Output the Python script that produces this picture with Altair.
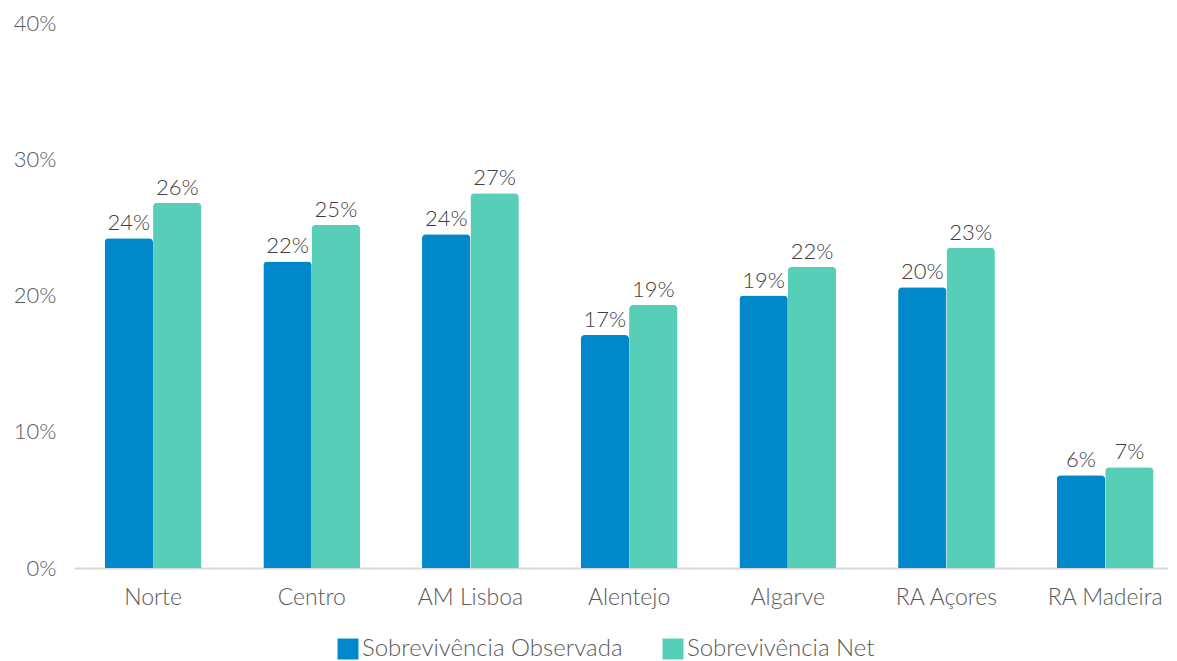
import altair as alt
import pandas as pd

regions = ["Norte", "Centro", "AM Lisboa", "Alentejo", "Algarve", "RA Açores", "RA Madeira"]
series = ["Sobrevivência Observada", "Sobrevivência Net"]
observada = [0.242, 0.225, 0.245, 0.171, 0.200, 0.206, 0.068]
net = [0.268, 0.252, 0.275, 0.193, 0.221, 0.235, 0.074]
labels_obs = ["24%", "22%", "24%", "17%", "19%", "20%", "6%"]
labels_net = ["26%", "25%", "27%", "19%", "22%", "23%", "7%"]
colors = ["#0088CA", "#57CFB8"]

rows = []
for i, r in enumerate(regions):
    rows.append({"region": r, "serie": series[0], "value": observada[i], "label": labels_obs[i], "order": 0})
    rows.append({"region": r, "serie": series[1], "value": net[i], "label": labels_net[i], "order": 1})
df = pd.DataFrame(rows)

FONT = "Lato"
TXT = "#595959"

x = alt.X("region:N", sort=regions, title=None,
          scale=alt.Scale(paddingInner=0.39, paddingOuter=0.142, align=0.68),
          axis=alt.Axis(labelAngle=0, labelFontSize=23, labelColor=TXT, labelFont=FONT,
                        labelFontWeight=300,
                        ticks=False, domainColor="#D9D9D9", domainWidth=2, labelPadding=18))
xo = alt.XOffset("serie:N", sort=series)

base = alt.Chart(df)

bars = base.mark_bar(cornerRadiusTopLeft=4, cornerRadiusTopRight=4).encode(
    x=x, xOffset=xo,
    y=alt.Y("value:Q", title=None,
            scale=alt.Scale(domain=[0, 0.4]),
            axis=alt.Axis(format=".0%", values=[0, 0.1, 0.2, 0.3, 0.4], grid=False, domain=False,
                          ticks=False, labelFontSize=22, labelColor=TXT, labelFont=FONT,
                          labelFontWeight=300, labelPadding=18)),
    color=alt.Color("serie:N", sort=series,
                    scale=alt.Scale(domain=series, range=colors),
                    legend=alt.Legend(orient="none", legendX=262, legendY=614, title=None,
                                      symbolType="square", direction="horizontal",
                                      symbolSize=440, symbolStrokeWidth=0, labelFontSize=24,
                                      labelFontWeight=300, labelLimit=500,
                                      labelColor=TXT, labelFont=FONT, labelOffset=2,
                                      columnPadding=38)),
)

text = base.mark_text(dy=-15, fontSize=22, color="#404040", font=FONT, fontWeight=300).encode(
    x=x, xOffset=xo,
    y="value:Q",
    text="label:N",
)

chart = (bars + text).properties(
    width=1094, height=545,
    padding={"left": 5, "right": 0, "top": 4, "bottom": 0},
).configure_view(stroke=None)

chart.save("out.html", embed_options={"renderer": "svg", "actions": False})
